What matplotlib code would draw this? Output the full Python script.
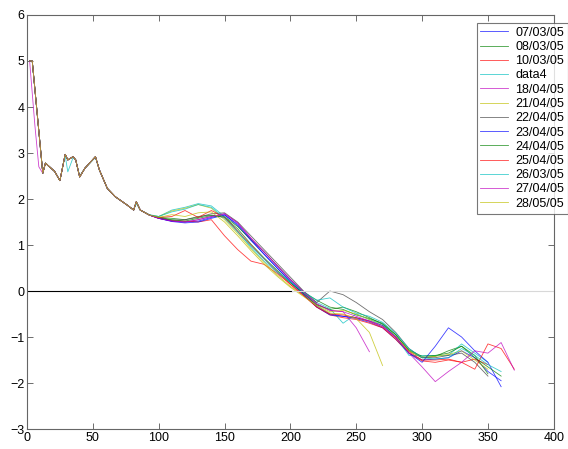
import matplotlib
matplotlib.use("Agg")
import matplotlib.pyplot as plt
import numpy as np

nan = np.nan

labels = ["07/03/05", "08/03/05", "10/03/05", "data4", "18/04/05", "21/04/05",
          "22/04/05", "23/04/05", "24/04/05", "25/04/05", "26/03/05",
          "27/04/05", "28/05/05"]

# old MATLAB colour order
colors = ["#0000ff", "#008000", "#ff0000", "#00bfbf", "#bf00bf", "#bfbf00",
          "#404040"]

# common start of all the runs
head_x = [2, 4, 12, 14, 21, 25, 29, 31, 35, 37, 40, 44, 52, 55, 61, 67, 76,
          81, 83, 86, 93]
head_y = [5.0, 5.0, 2.56, 2.78, 2.6, 2.4, 2.97, 2.85, 2.92, 2.85, 2.48, 2.67,
          2.92, 2.63, 2.23, 2.05, 1.87, 1.76, 1.94, 1.76, 1.65]
head_y_data4 = [5.0, 5.0, 2.56, 2.78, 2.6, 2.4, 2.95, 2.59, 2.9, 2.85, 2.5,
                2.67, 2.9, 2.63, 2.23, 2.05, 1.87, 1.76, 1.9, 1.76, 1.66]
head_x_18apr = [2, 6, 9]
head_y_18apr = [5.0, 3.6, 2.7]

tail_x = [100, 110, 120, 130, 140, 150, 160, 170, 180, 190, 200, 210, 220,
          230, 240, 250, 260, 270, 280, 290, 300, 310, 320, 330, 340, 350,
          360, 370]

s_07mar = [1.58, 1.52, 1.50, 1.52, 1.60, 1.66, 1.42, 1.10, 0.80, 0.50, 0.22,
           -0.05, -0.32, -0.50, -0.55, -0.60, -0.68, -0.80, -1.05, -1.35,
           -1.50, -1.48, -1.45, -1.30, -1.45, -1.75, -1.95, nan]
s_08mar = [1.60, 1.58, 1.55, 1.62, 1.65, 1.62, 1.40, 1.12, 0.85, 0.55, 0.25,
           -0.02, -0.20, -0.35, -0.40, -0.52, -0.60, -0.70, -0.95, -1.30,
           -1.45, -1.42, -1.30, -1.20, -1.40, -1.80, nan, nan]
s_10mar = [1.58, 1.53, 1.52, 1.50, 1.55, 1.20, 0.90, 0.65, 0.58, 0.38, 0.15,
           -0.08, -0.35, -0.52, -0.58, -0.62, -0.70, -0.80, -1.05, -1.35,
           -1.52, -1.55, -1.50, -1.55, -1.48, -1.60, nan, nan]
s_data4 = [1.62, 1.76, 1.82, 1.90, 1.85, 1.62, 1.30, 0.95, 0.65, 0.40, 0.18,
           -0.05, -0.25, -0.38, -0.70, -0.50, -0.62, -0.72, -1.00, -1.40,
           -1.40, -1.40, -1.40, -1.15, -1.35, -1.55, nan, nan]
s_18apr = [1.58, 1.52, 1.50, 1.55, 1.62, 1.68, 1.48, 1.15, 0.85, 0.55, 0.25,
           -0.02, -0.28, -0.42, -0.45, -0.80, -1.32, nan, nan, nan, nan, nan,
           nan, nan, nan, nan, nan, nan]
s_21apr = [1.62, 1.74, 1.80, 1.88, 1.80, 1.55, 1.25, 0.92, 0.62, 0.35, 0.10,
           -0.10, -0.30, -0.45, -0.42, -0.50, -0.62, -0.75, -0.98, -1.30,
           -1.45, -1.42, -1.38, -1.30, -1.50, -1.70, nan, nan]
s_22apr = [1.59, 1.54, 1.55, 1.60, 1.68, 1.70, 1.50, 1.20, 0.90, 0.60, 0.30,
           0.00, -0.25, 0.00, -0.08, -0.25, -0.45, -0.62, -0.90, -1.25,
           -1.45, -1.45, -1.40, -1.35, -1.55, -1.85, nan, nan]
s_23apr = [1.58, 1.51, 1.48, 1.50, 1.58, 1.65, 1.45, 1.12, 0.80, 0.50, 0.20,
           -0.08, -0.35, -0.52, -0.55, -0.58, -0.65, -0.75, -1.00, -1.35,
           -1.55, -1.20, -0.80, -1.00, -1.30, -1.55, -2.08, nan]
s_24apr = [1.60, 1.55, 1.52, 1.58, 1.64, 1.60, 1.35, 1.02, 0.72, 0.45, 0.18,
           -0.05, -0.30, -0.40, -0.35, -0.45, -0.58, -0.72, -0.95, -1.28,
           -1.42, -1.40, -1.35, -1.20, -1.45, -1.65, -1.85, nan]
s_25apr = [1.60, 1.62, 1.75, 1.60, 1.75, 1.60, 1.30, 1.00, 0.70, 0.42, 0.14,
           -0.10, -0.35, -0.50, -0.52, -0.58, -0.66, -0.78, -1.02, -1.32,
           -1.50, -1.50, -1.48, -1.55, -1.70, -1.15, -1.25, -1.70]
s_26mar = [1.62, 1.72, 1.78, 1.88, 1.82, 1.58, 1.28, 0.98, 0.70, 0.42, 0.20,
           -0.02, -0.20, -0.15, -0.35, -0.48, -0.55, -0.68, -0.92, -1.25,
           -1.45, -1.48, -1.45, -1.25, -1.40, -1.60, -1.75, nan]
s_27apr = [1.58, 1.52, 1.50, 1.55, 1.62, 1.68, 1.48, 1.15, 0.85, 0.55, 0.25,
           -0.02, -0.28, -0.42, -0.45, -0.55, -0.65, -0.78, -1.00, -1.35,
           -1.65, -1.97, -1.75, -1.55, -1.30, -1.35, -1.12, -1.72]
s_28may = [1.60, 1.66, 1.62, 1.70, 1.72, 1.50, 1.20, 0.88, 0.58, 0.32, 0.08,
           -0.12, -0.32, -0.48, -0.50, -0.60, -0.90, -1.62, nan, nan, nan, nan,
           nan, nan, nan, nan, nan, nan]

tails = [s_07mar, s_08mar, s_10mar, s_data4, s_18apr, s_21apr, s_22apr,
         s_23apr, s_24apr, s_25apr, s_26mar, s_27apr, s_28may]

fig = plt.figure(figsize=(5.68, 4.49), dpi=100)
ax = fig.add_axes([0.0475, 0.0445, 0.9275, 0.9221])
plt.rcParams["font.family"] = ["Liberation Sans", "DejaVu Sans"]

for i, (lab, tail) in enumerate(zip(labels, tails)):
    if lab == "data4":
        hx, hy = head_x, head_y_data4
    elif lab == "18/04/05":
        hx, hy = head_x_18apr + head_x[2:], head_y_18apr + head_y[2:]
    else:
        hx, hy = head_x, head_y
    ax.plot(hx + tail_x, hy + tail, color=colors[i % 7], lw=0.6, alpha=0.75,
            label=lab)

# zero line
ax.plot([0, 201], [0, 0], color="black", lw=0.8)
ax.plot([201, 400], [0, 0], color="#d8d8d8", lw=0.8)

ax.set_xlim(0, 400)
ax.set_ylim(-3, 6)
ax.set_xticks(range(0, 401, 50))
ax.set_yticks(range(-3, 7))
ax.tick_params(direction="in", top=True, right=True, length=4, width=0.6,
               color="#555555", labelsize=9, pad=2)
for lbl in ax.get_xticklabels() + ax.get_yticklabels():
    lbl.set_family(["Liberation Sans", "DejaVu Sans"])
for sp in ax.spines.values():
    sp.set_color("#666666")
    sp.set_linewidth(0.8)

leg = ax.legend(loc="upper right", bbox_to_anchor=(1.0, 1 - 23 / 449),
                bbox_transform=fig.transFigure, frameon=True,
                fancybox=False, edgecolor="#555555", borderpad=0.3,
                labelspacing=0.18, handlelength=2.2, handletextpad=0.6,
                borderaxespad=0.0, prop={"family": ["Liberation Sans"],
                                         "size": 9})
leg.get_frame().set_linewidth(0.8)

fig.savefig("out.png", dpi=100)
